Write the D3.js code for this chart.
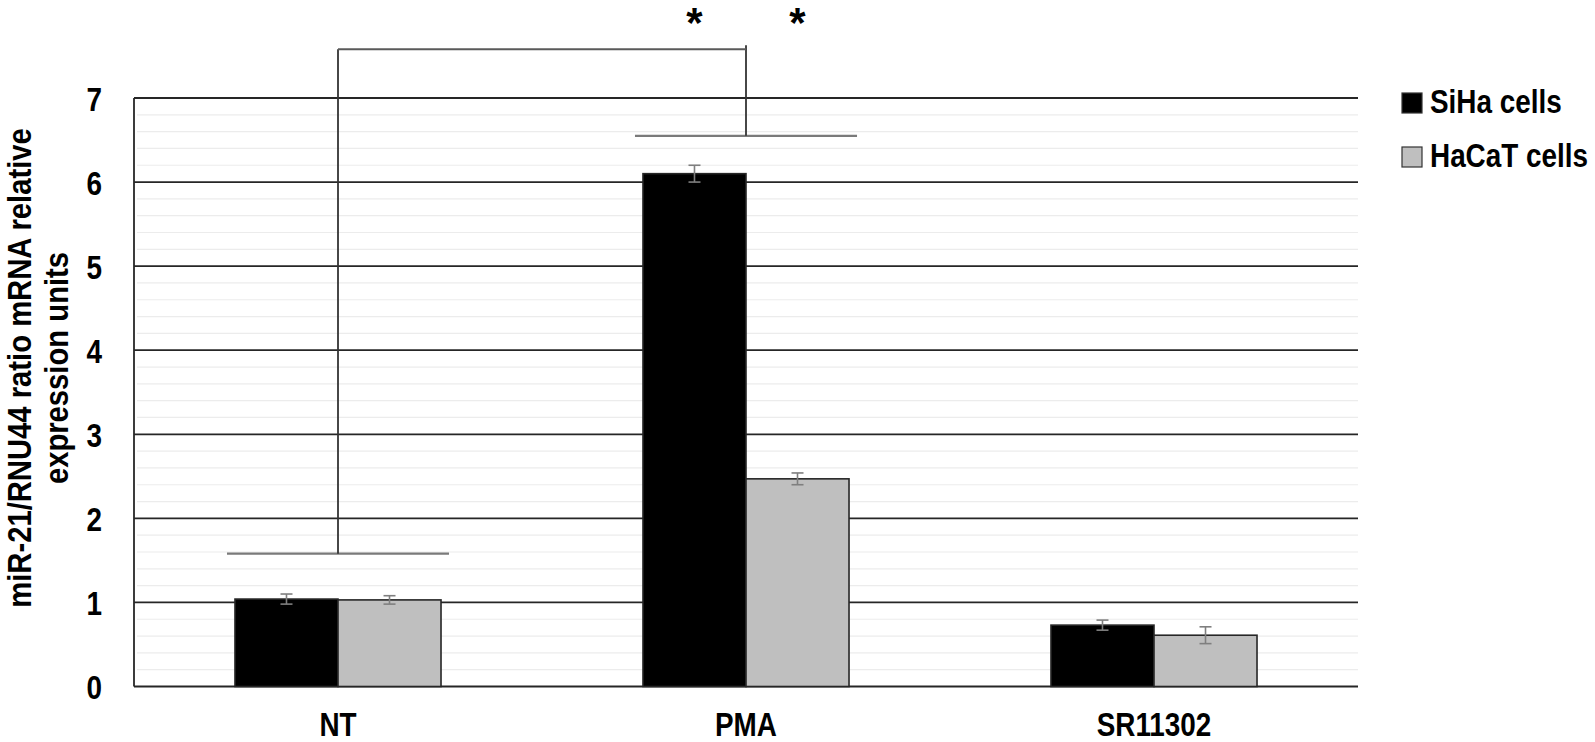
<!DOCTYPE html>
<html>
<head>
<meta charset="utf-8">
<script src="https://cdn.jsdelivr.net/npm/d3@7"></script>
<style>
  body { margin: 0; background: #fff; }
  svg { display: block; }
  text { font-family: "Liberation Sans", Arial, sans-serif; font-weight: bold; fill: #000; }
</style>
</head>
<body>
<div id="chart"></div>
<script>
const categories = ["NT", "PMA", "SR11302"];
const seriesNames = ["SiHa cells", "HaCaT cells"];
const sihaValues = [1.04, 6.10, 0.73];
const sihaErrors = [0.06, 0.10, 0.06];
const hacatValues = [1.03, 2.47, 0.61];
const hacatErrors = [0.05, 0.07, 0.10];
const yTicks = [0, 1, 2, 3, 4, 5, 6, 7];
const minorStep = 0.2;
// significance bracket levels (in y units)
const bracketCats = ["NT", "PMA"];
const bracketLow = [1.58, 6.55];
const bracketTop = 7.58;
const starsAt = ["PMA"];

const colors = ["#000000", "#bfbfbf"];
const width = 1595, height = 742;
const narrow = 0.82; // no Arial Narrow here, squeeze Liberation Sans instead

const svg = d3.select('#chart').append('svg')
    .attr('width', width)
    .attr('height', height);

const plotLeft = 134, plotRight = 1358;

const x = d3.scaleBand()
    .domain(categories)
    .range([plotLeft, plotRight])
    .paddingInner(0.495)
    .paddingOuter(0.2475);

const xs = d3.scaleBand()
    .domain(seriesNames)
    .range([0, x.bandwidth()]);

const y = d3.scaleLinear()
    .domain([0, 7])
    .range([686.5, 98]);

// minor gridlines
const minor = d3.range(0, 7 + 1e-9, minorStep).filter(v => Math.abs(v - Math.round(v)) > 1e-6);
svg.append('g').selectAll('line')
    .data(minor)
  .enter().append('line')
    .attr('x1', plotLeft + 3)
    .attr('x2', plotRight)
    .attr('y1', d => y(d))
    .attr('y2', d => y(d))
    .style('stroke', '#ececec')
    .style('stroke-width', '1.2px');

// major gridlines
svg.append('g').selectAll('line')
    .data(yTicks)
  .enter().append('line')
    .attr('x1', plotLeft)
    .attr('x2', plotRight)
    .attr('y1', d => y(d))
    .attr('y2', d => y(d))
    .style('stroke', '#262626')
    .style('stroke-width', '1.8px');

// y axis line
svg.append('line')
    .attr('x1', plotLeft).attr('x2', plotLeft)
    .attr('y1', y(7)).attr('y2', y(0))
    .style('stroke', '#262626')
    .style('stroke-width', '1.8px');

// y tick labels
const yAxis = d3.axisLeft(y).tickValues(yTicks).tickFormat(d3.format('d')).tickSize(0);
const yg = svg.append('g').attr('transform', `translate(${plotLeft},0)`).call(yAxis);
yg.select('.domain').remove();
yg.selectAll('text')
    .attr('x', 0)
    .attr('transform', `translate(-32,0) scale(${narrow},1)`)
    .attr('font-size', '34px')
    .attr('dy', '0.36em')
    .style('font-family', null);

// x labels
const xAxis = d3.axisBottom(x).tickSize(0);
const xg = svg.append('g').attr('transform', `translate(0,${y(0)})`).call(xAxis);
xg.select('.domain').remove();
xg.selectAll('text')
    .attr('y', 0)
    .attr('dy', null)
    .attr('transform', `translate(0,49) scale(${narrow},1)`)
    .attr('font-size', '34px')
    .style('font-family', null);

// bars
const rows = categories.map((c, i) => ({
    cat: c,
    vals: [
        { name: seriesNames[0], value: sihaValues[i], err: sihaErrors[i] },
        { name: seriesNames[1], value: hacatValues[i], err: hacatErrors[i] }
    ]
}));

const groups = svg.append('g').selectAll('g')
    .data(rows)
  .enter().append('g')
    .attr('transform', d => `translate(${x(d.cat)},0)`);

groups.selectAll('rect')
    .data(d => d.vals)
  .enter().append('rect')
    .attr('x', d => xs(d.name))
    .attr('y', d => y(d.value))
    .attr('width', xs.bandwidth())
    .attr('height', d => y(0) - y(d.value))
    .style('fill', (d, i) => colors[i])
    .style('stroke', '#262626')
    .style('stroke-width', '1.6px');

// error bars
const eb = groups.selectAll('g.err')
    .data(d => d.vals)
  .enter().append('g')
    .attr('class', 'err')
    .attr('transform', d => `translate(${xs(d.name) + xs.bandwidth() / 2},0)`);

eb.append('line')
    .attr('x1', 0).attr('x2', 0)
    .attr('y1', d => y(d.value + d.err))
    .attr('y2', d => y(d.value - d.err));
eb.append('line')
    .attr('x1', -6).attr('x2', 6)
    .attr('y1', d => y(d.value + d.err))
    .attr('y2', d => y(d.value + d.err));
eb.append('line')
    .attr('x1', -6).attr('x2', 6)
    .attr('y1', d => y(d.value - d.err))
    .attr('y2', d => y(d.value - d.err));
eb.selectAll('line')
    .style('stroke', '#7f7f7f')
    .style('stroke-width', '1.6px');

// significance bracket
const cx = c => x(c) + x.bandwidth() / 2;
const halfW = x.bandwidth() / 2 + 8;
const br = svg.append('g');

bracketCats.forEach((c, i) => {
    br.append('line')
        .attr('x1', cx(c) - halfW).attr('x2', cx(c) + halfW)
        .attr('y1', y(bracketLow[i])).attr('y2', y(bracketLow[i]))
        .style('stroke', '#7a7a7a')
        .style('stroke-width', '2.4px');
    br.append('line')
        .attr('x1', cx(c)).attr('x2', cx(c))
        .attr('y1', y(bracketTop) - (i === 1 ? 4 : 0)).attr('y2', y(bracketLow[i]))
        .style('stroke', '#333')
        .style('stroke-width', '1.8px');
});
br.append('line')
    .attr('x1', cx(bracketCats[0])).attr('x2', cx(bracketCats[1]))
    .attr('y1', y(bracketTop)).attr('y2', y(bracketTop))
    .style('stroke', '#5a5a5a')
    .style('stroke-width', '2px');

// asterisks above PMA bars
starsAt.forEach(c => {
    seriesNames.forEach(s => {
        svg.append('text')
            .attr('x', x(c) + xs(s) + xs.bandwidth() / 2)
            .attr('y', 37)
            .attr('text-anchor', 'middle')
            .attr('font-size', '42px')
            .text('*');
    });
});

// y axis title, two lines
const titleLines = ['miR-21/RNU44 ratio mRNA relative', 'expression units'];
const titleX = [31, 68];
titleLines.forEach((t, i) => {
    svg.append('text')
        .attr('transform', `translate(${titleX[i]},368) rotate(-90) scale(0.86,1)`)
        .attr('text-anchor', 'middle')
        .attr('font-size', '34px')
        .text(t);
});

// legend
const legendY = [93, 147];
seriesNames.forEach((s, i) => {
    svg.append('rect')
        .attr('x', 1402).attr('y', legendY[i])
        .attr('width', 20).attr('height', 20)
        .style('fill', colors[i])
        .style('stroke', '#333')
        .style('stroke-width', '1.2px');
    svg.append('text')
        .attr('transform', `translate(1430,${legendY[i] + 20}) scale(${narrow},1)`)
        .attr('font-size', '34px')
        .text(s);
});
</script>
</body>
</html>
